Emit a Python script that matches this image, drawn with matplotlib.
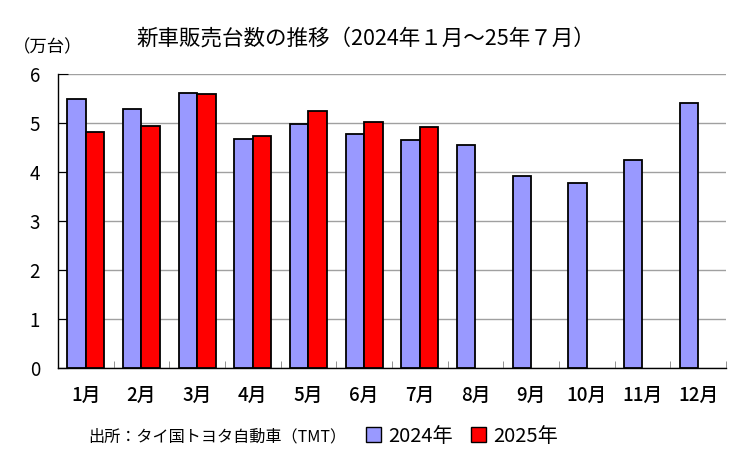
import numpy as np
import matplotlib.pyplot as plt
from matplotlib.patches import Patch

plt.rcParams['font.family'] = ['Noto Sans CJK JP', 'DejaVu Sans']

months = ['1月', '2月', '3月', '4月', '5月', '6月', '7月', '8月', '9月', '10月', '11月', '12月']
sales_2024 = [5.48, 5.28, 5.61, 4.67, 4.98, 4.77, 4.64, 4.54, 3.92, 3.77, 4.24, 5.41]
sales_2025 = [4.82, 4.93, 5.58, 4.72, 5.23, 5.02, 4.92]

c2024 = '#9999FF'
c2025 = '#FF0000'

fig = plt.figure(figsize=(7.5, 4.68), dpi=100)
ax = fig.add_axes([0.0773, 0.2137, 0.8907, 0.629])

x = np.arange(len(months))
w = 0.33
ax.bar(x[:len(sales_2024)] - w / 2, sales_2024, w, color=c2024,
       edgecolor='black', linewidth=1.3, zorder=3)
ax.bar(x[:len(sales_2025)] + w / 2, sales_2025, w, color=c2025,
       edgecolor='black', linewidth=1.3, zorder=3)

ax.set_xlim(-0.5, len(months) - 0.5)
ax.set_ylim(0, 6)
ax.set_yticks(range(7))
ax.yaxis.grid(True, color='#A0A0A0', linewidth=1)
ax.set_axisbelow(True)

for s in ['top', 'right']:
    ax.spines[s].set_visible(False)
ax.spines['left'].set_linewidth(1)
ax.spines['bottom'].set_linewidth(1)

ax.set_xticks(x)
ax.set_xticklabels(months, fontsize=13.5, fontweight='medium')
ax.tick_params(axis='x', length=0, pad=13)
ax.set_xticks(np.arange(len(months) + 1) - 0.5, minor=True)
ax.tick_params(axis='x', which='minor', direction='in', length=5, color='#808080')
ax.tick_params(axis='y', direction='in', length=7, labelsize=13.5, pad=13)

fig.text(0.488, 0.918, '新車販売台数の推移（2024年１月～25年７月）',
         ha='center', va='center', fontsize=15.5)
fig.text(0.063, 0.898, '（万台）', ha='center', va='center', fontsize=12.5)

fig.text(0.118, 0.066, '出所：タイ国トヨタ自動車（TMT）', ha='left', va='center', fontsize=11.6)
handles = [Patch(facecolor=c2024, edgecolor='black', label='2024年'),
           Patch(facecolor=c2025, edgecolor='black', label='2025年')]
fig.legend(handles=handles, loc='center left', bbox_to_anchor=(0.477, 0.068),
           ncol=2, frameon=False, fontsize=14.5, handlelength=0.75, handleheight=0.75,
           handletextpad=0.35, columnspacing=0.9, borderaxespad=0)

fig.savefig('out.png', dpi=100)
